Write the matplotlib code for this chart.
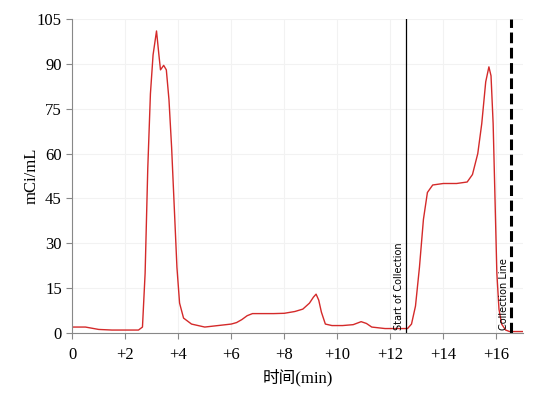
import matplotlib.pyplot as plt

# radio trace
time_min = [0, 0.5, 1.0, 1.5, 2.0, 2.5, 2.65, 2.75, 2.85, 2.95, 3.05, 3.18, 3.27, 3.33, 3.45, 3.55,
            3.65, 3.75, 3.85, 3.95, 4.05, 4.2, 4.5, 5.0, 5.5, 6.0, 6.2, 6.4, 6.6, 6.8, 7.2, 7.6,
            8.0, 8.4, 8.7, 8.95, 9.1, 9.2, 9.3, 9.4, 9.55, 9.8, 10.2, 10.6, 10.9, 11.1, 11.3,
            11.8, 12.3, 12.65, 12.8, 12.95, 13.1, 13.25, 13.4, 13.6, 14.0, 14.5, 14.9, 15.1,
            15.3, 15.45, 15.6, 15.72, 15.8, 15.88, 15.95, 16.02, 16.1, 16.2, 16.35, 16.5, 17.0]
activity = [2, 2, 1.2, 1, 1, 1, 2, 20, 55, 80, 93, 101, 93, 88, 89.5, 88,
            78, 62, 42, 22, 10, 5, 3, 2, 2.5, 3, 3.5, 4.5, 5.8, 6.5, 6.5, 6.5,
            6.6, 7.2, 8, 10, 12, 13, 11, 7, 3, 2.5, 2.5, 2.8, 3.8, 3.2, 2,
            1.5, 1.5, 1.5, 3, 9, 22, 38, 47, 49.5, 50, 50, 50.5, 53,
            60, 70, 84, 89, 86, 70, 45, 20, 8, 3, 1, 0.5, 0.5]

x_ticks = [0, 2, 4, 6, 8, 10, 12, 14, 16]
x_tick_labels = ['0', '+2', '+4', '+6', '+8', '+10', '+12', '+14', '+16']
y_ticks = [0, 15, 30, 45, 60, 75, 90, 105]

start_collection = 12.58
collection_line = 16.55

plt.rcParams['font.family'] = ['Liberation Serif', 'Noto Sans CJK SC']

fig = plt.figure(figsize=(5.39, 3.96), dpi=100)
ax = fig.add_axes([0.134, 0.159, 0.836, 0.793])

ax.plot(time_min, activity, color='#d42a2a', linewidth=1.0)

ax.axvline(start_collection, color='black', linewidth=0.9)
ax.axvline(collection_line, color='black', linewidth=2.2, linestyle=(0, (3.5, 1.5)))

ax.text(start_collection - 0.08, 1, 'Start of Collection', rotation=90, ha='right', va='bottom',
        fontsize=7, family='DejaVu Sans')
ax.text(collection_line - 0.08, 1, 'Collection Line', rotation=90, ha='right', va='bottom',
        fontsize=7, family='DejaVu Sans')

ax.set_xlim(0, 17.0)
ax.set_ylim(0, 105)
ax.set_xticks(x_ticks)
ax.set_xticklabels(x_tick_labels)
ax.set_yticks(y_ticks)
ax.tick_params(labelsize=12, color='#888888', length=4)
ax.tick_params(axis='x', pad=6)
ax.grid(color='#f2f2f2', linewidth=0.8)

for side in ['top', 'right']:
    ax.spines[side].set_visible(False)
for side in ['left', 'bottom']:
    ax.spines[side].set_color('#888888')

ax.set_xlabel('时间(min)', fontsize=12, labelpad=4)
ax.set_ylabel('mCi/mL', fontsize=12, labelpad=-2)

fig.savefig('out.png', dpi=100)
